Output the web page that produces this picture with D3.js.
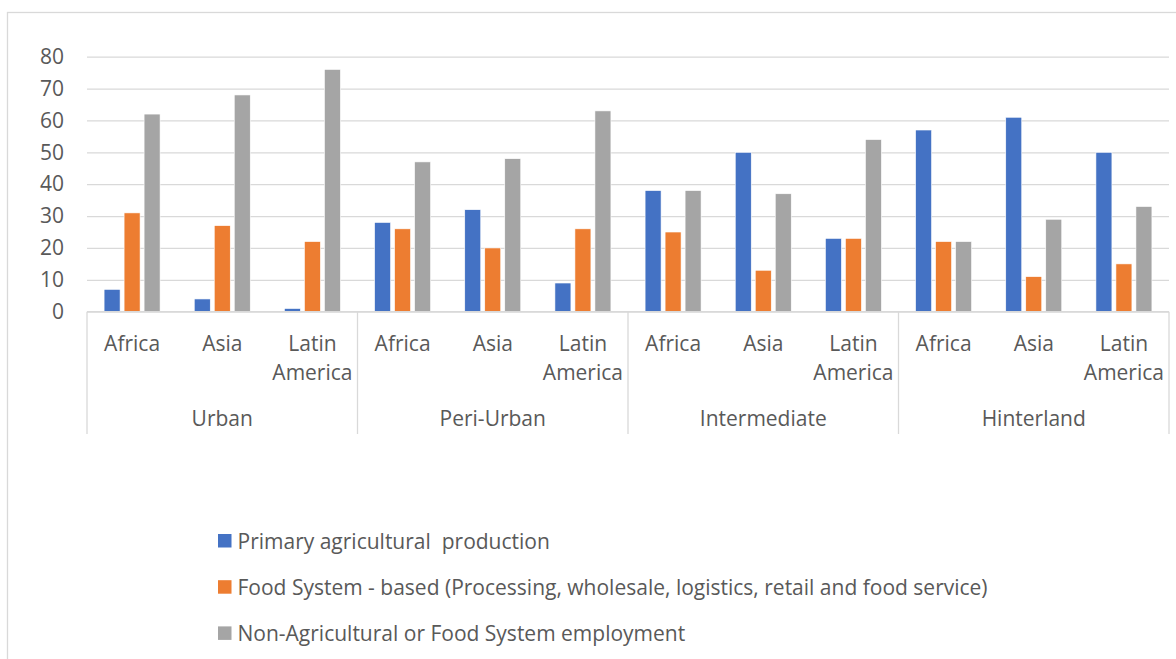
<!DOCTYPE html>
<html>
<head>
<meta charset="utf-8">
<script src="https://cdn.jsdelivr.net/npm/d3@7"></script>
<style>
    body { margin: 0; background: #fff; }
    svg text { font-family: 'Open Sans', sans-serif; fill: #595959; }
</style>
</head>
<body>
<svg id="chart"></svg>
<script>
const WIDTH = 1176;
const HEIGHT = 659;

// Data
const zones = ['Urban', 'Peri-Urban', 'Intermediate', 'Hinterland'];
const regions = ['Africa', 'Asia', 'Latin America'];
const seriesNames = [
    'Primary agricultural  production',
    'Food System - based (Processing, wholesale, logistics, retail and food service)',
    'Non-Agricultural or Food System employment',
];
const seriesColors = ['#4472C4', '#ED7D31', '#A5A5A5'];

// one row per zone, values per region
const primaryAg = [[7, 4, 1], [28, 32, 9], [38, 50, 23], [57, 61, 50]];
const foodSystem = [[31, 27, 22], [26, 20, 26], [25, 13, 23], [22, 11, 15]];
const nonAgFood = [[62, 68, 76], [47, 48, 63], [38, 37, 54], [22, 29, 33]];
const yTicks = [0, 10, 20, 30, 40, 50, 60, 70, 80];

function makeChart() {
    const plot = { left: 87, right: 1169, top: 56.7, bottom: 311.7 };
    const allSeries = [primaryAg, foodSystem, nonAgFood];

    // flatten into bar records
    let bars = [];
    zones.forEach((z, zi) => {
        regions.forEach((r, ri) => {
            allSeries.forEach((s, si) => {
                bars.push({ zone: z, region: r, series: si, value: s[zi][ri] });
            });
        });
    });

    let svg = d3.select('#chart')
        .attr('width', WIDTH)
        .attr('height', HEIGHT);

    // outer chart frame (runs past the bottom/right edge)
    svg.append('rect')
        .attr('x', 7.5)
        .attr('y', 12.5)
        .attr('width', 1180)
        .attr('height', 700)
        .attr('fill', 'none')
        .attr('stroke', '#d9d9d9')
        .attr('stroke-width', 1.3);

    let x0 = d3.scaleBand()
        .domain(zones)
        .range([plot.left, plot.right]);
    let x1 = d3.scaleBand()
        .domain(regions)
        .range([0, x0.bandwidth()]);
    let x2 = d3.scaleBand()
        .domain([0, 1, 2])
        .range([-30, 30])
        .paddingInner(0.2)
        .paddingOuter(0.1);
    let y = d3.scaleLinear()
        .domain([0, 80])
        .range([plot.bottom, plot.top]);

    // gridlines
    svg.append('g')
        .attr('class', 'grid')
        .attr('transform', `translate(${plot.left}, 0)`)
        .call(d3.axisLeft(y).tickValues(yTicks).tickSize(-(plot.right - plot.left)).tickFormat(''))
        .call(g => g.select('.domain').remove())
        .call(g => g.selectAll('line').attr('stroke', '#d9d9d9').attr('stroke-width', 1.3));

    // y labels
    svg.append('g')
        .attr('class', 'y-axis')
        .attr('transform', `translate(${plot.left - 23}, 0)`)
        .call(d3.axisLeft(y).tickValues(yTicks).tickSize(0).tickPadding(0))
        .call(g => g.select('.domain').remove())
        .call(g => g.selectAll('text')
            .attr('font-size', '21px')
            .attr('font-family', 'Open Sans, sans-serif')
            .attr('fill', '#595959'));

    // bars
    svg.selectAll('.bar')
        .data(bars)
        .enter().append('rect')
        .attr('class', 'bar')
        .attr('x', d => x0(d.zone) + x1(d.region) + x1.bandwidth() / 2 + x2(d.series))
        .attr('y', d => y(d.value))
        .attr('width', x2.bandwidth())
        .attr('height', d => y(0) - y(d.value))
        .attr('fill', d => seriesColors[d.series])
        .attr('stroke', '#fff')
        .attr('stroke-width', 0.6);

    // category axis: baseline + separators
    const axisColor = '#d9d9d9';
    svg.append('line')
        .attr('x1', plot.left).attr('x2', plot.right)
        .attr('y1', plot.bottom).attr('y2', plot.bottom)
        .attr('stroke', axisColor).attr('stroke-width', 1.3);

    let seps = zones.map(z => x0(z)).concat([plot.right]);
    svg.selectAll('.sep')
        .data(seps)
        .enter().append('line')
        .attr('class', 'sep')
        .attr('x1', d => d).attr('x2', d => d)
        .attr('y1', plot.bottom).attr('y2', 434)
        .attr('stroke', axisColor).attr('stroke-width', 1.3);

    // region labels
    let regionLabels = [];
    zones.forEach(z => regions.forEach(r => regionLabels.push({ zone: z, region: r })));
    let rl = svg.selectAll('.region-label')
        .data(regionLabels)
        .enter().append('text')
        .attr('class', 'region-label')
        .attr('text-anchor', 'middle')
        .attr('font-size', '21px')
        .attr('transform', d => `translate(${x0(d.zone) + x1(d.region) + x1.bandwidth() / 2}, 351)`);
    rl.selectAll('tspan')
        .data(d => d.region.split(' '))
        .enter().append('tspan')
        .attr('x', 0)
        .attr('dy', (d, i) => i === 0 ? 0 : 29)
        .text(d => d);

    // zone labels
    svg.selectAll('.zone-label')
        .data(zones)
        .enter().append('text')
        .attr('class', 'zone-label')
        .attr('text-anchor', 'middle')
        .attr('font-size', '21px')
        .attr('x', d => x0(d) + x0.bandwidth() / 2)
        .attr('y', 426)
        .text(d => d);

    // legend
    let legend = svg.append('g')
        .attr('class', 'legend')
        .attr('transform', 'translate(218, 534)');
    let item = legend.selectAll('.legend-item')
        .data(seriesNames)
        .enter().append('g')
        .attr('class', 'legend-item')
        .attr('transform', (d, i) => `translate(0, ${i * 46.2})`);
    item.append('rect')
        .attr('width', 13.5)
        .attr('height', 13.5)
        .attr('fill', (d, i) => seriesColors[i]);
    item.append('text')
        .attr('x', 19.5)
        .attr('y', 14.5)
        .attr('font-size', '21px')
        .style('white-space', 'pre')
        .text(d => d);
}

window.onload = makeChart;
</script>
</body>
</html>
